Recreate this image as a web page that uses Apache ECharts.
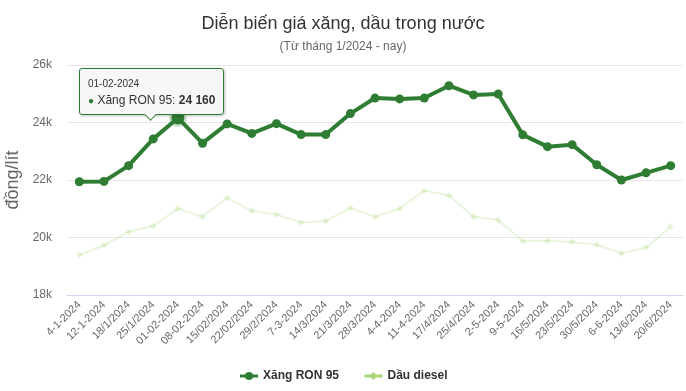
<!DOCTYPE html>
<html><head><meta charset="utf-8">
<script src="https://cdn.jsdelivr.net/npm/echarts@6/dist/echarts.min.js"></script>
<style>html,body{margin:0;padding:0;background:#fff;}#c{width:686px;height:391px;}</style>
</head><body><div id="c"></div>
<script>
var categories = ['4-1-2024','12-1-2024','18/1/2024','25/1/2024','01-02-2024','08-02-2024','15/02/2024','22/02/2024','29/2/2024','7-3-2024','14/3/2024','21/3/2024','28/3/2024','4-4-2024','11-4-2024','17/4/2024','25/4/2024','2-5-2024','9-5-2024','16/5/2024','23/5/2024','30/5/2024','6-6-2024','13/6/2024','20/6/2024'];
var ron95 = [21940,21950,22500,23430,24160,23280,23950,23620,23960,23580,23580,24310,24850,24820,24850,25280,24960,24990,23570,23160,23230,22530,22000,22250,22500];
var diesel = [19390,19730,20200,20400,21010,20720,21380,20930,20800,20520,20570,21030,20720,21010,21630,21460,20720,20610,19870,19890,19840,19750,19450,19650,20370];
var yTicks = {min:18000, max:26000, interval:2000};
var tipIndex = 4;

var chart = echarts.init(document.getElementById('c'));
var ronData = ron95.map(function(v,i){
  if(i===tipIndex) return {value:v, symbolSize:13, itemStyle:{borderColor:'rgba(46,125,50,0.25)', borderWidth:5}};
  return v;
});
chart.setOption({
  animation:false,
  textStyle:{fontFamily:'Arial, "Liberation Sans", sans-serif'},
  title:[{text:'Diễn biến giá xăng, dầu trong nước', left:'center', top:10, textStyle:{fontSize:18, fontWeight:'normal', color:'#333'}},
         {text:'(Từ tháng 1/2024 - nay)', left:'center', top:36, textStyle:{fontSize:12, fontWeight:'normal', color:'#666'}}],
  legend:{bottom:4, left:'center', itemGap:24, itemWidth:18, itemHeight:10, textStyle:{fontSize:12, fontWeight:'bold', color:'#333'},
    data:[{name:'Xăng RON 95', itemStyle:{color:'#2e7d32'}, lineStyle:{color:'#2e7d32', width:3}},
          {name:'Dầu diesel', itemStyle:{color:'#a8d977', opacity:1}, lineStyle:{color:'#a8d977', width:3, opacity:1}}]},
  grid:{left:67, right:3, top:65, bottom:96, outerBoundsMode:'none', containLabel:false},
  tooltip:{trigger:'item', triggerOn:'none', alwaysShowContent:true,
    backgroundColor:'rgba(247,247,247,0.95)', borderColor:'#2e7d32', borderWidth:1, padding:[8,8,4,8],
    extraCssText:'border-radius:3px;box-shadow:1px 1px 3px rgba(0,0,0,0.25);overflow:visible;',
    position:function(){return [79,68];},
    formatter:function(p){
      return '<div style="position:relative;font-family:Arial,Liberation Sans,sans-serif;color:#333;width:127px;">'
        + '<div style="font-size:10px;line-height:14px;">'+p.name+'</div>'
        + '<div style="font-size:12px;line-height:18px;"><span style="color:#2e7d32;font-size:10px;">●</span> '+p.seriesName+': <b>'+String(p.value).replace(/(\d)(?=(\d{3})$)/,'$1 ')+'</b></div>'
        + '<div style="position:absolute;left:58px;bottom:-9px;width:8px;height:8px;background:#f7f7f7;border-right:1px solid #2e7d32;border-bottom:1px solid #2e7d32;transform:rotate(45deg);"></div>'
        + '</div>';
    }},
  xAxis:{type:'category', data:categories, boundaryGap:true,
    axisLine:{lineStyle:{color:'#ccd6eb'}}, axisTick:{show:false},
    axisLabel:{rotate:45, fontSize:11, color:'#666', margin:8, interval:0}},
  yAxis:{type:'value', min:yTicks.min, max:yTicks.max, interval:yTicks.interval,
    name:'đồng/lít', nameLocation:'middle', nameGap:45, nameTextStyle:{fontSize:18, color:'#666'},
    axisLabel:{fontSize:12, color:'#666', margin:15, formatter:function(v){return v/1000+'k';}},
    splitLine:{lineStyle:{color:'#e6e6e6'}}, axisLine:{show:false}, axisTick:{show:false}},
  series:[
    {name:'Dầu diesel', type:'line', data:diesel, symbol:'diamond', symbolSize:7, z:1,
      itemStyle:{color:'#a8d977', opacity:0.25}, lineStyle:{color:'#a8d977', width:2, opacity:0.25}},
    {name:'Xăng RON 95', type:'line', data:ronData, symbol:'circle', symbolSize:9, z:3,
      itemStyle:{color:'#2e7d32'}, lineStyle:{color:'#2e7d32', width:4}}
  ]
});
chart.dispatchAction({type:'showTip', seriesIndex:1, dataIndex:tipIndex});
</script></body></html>
